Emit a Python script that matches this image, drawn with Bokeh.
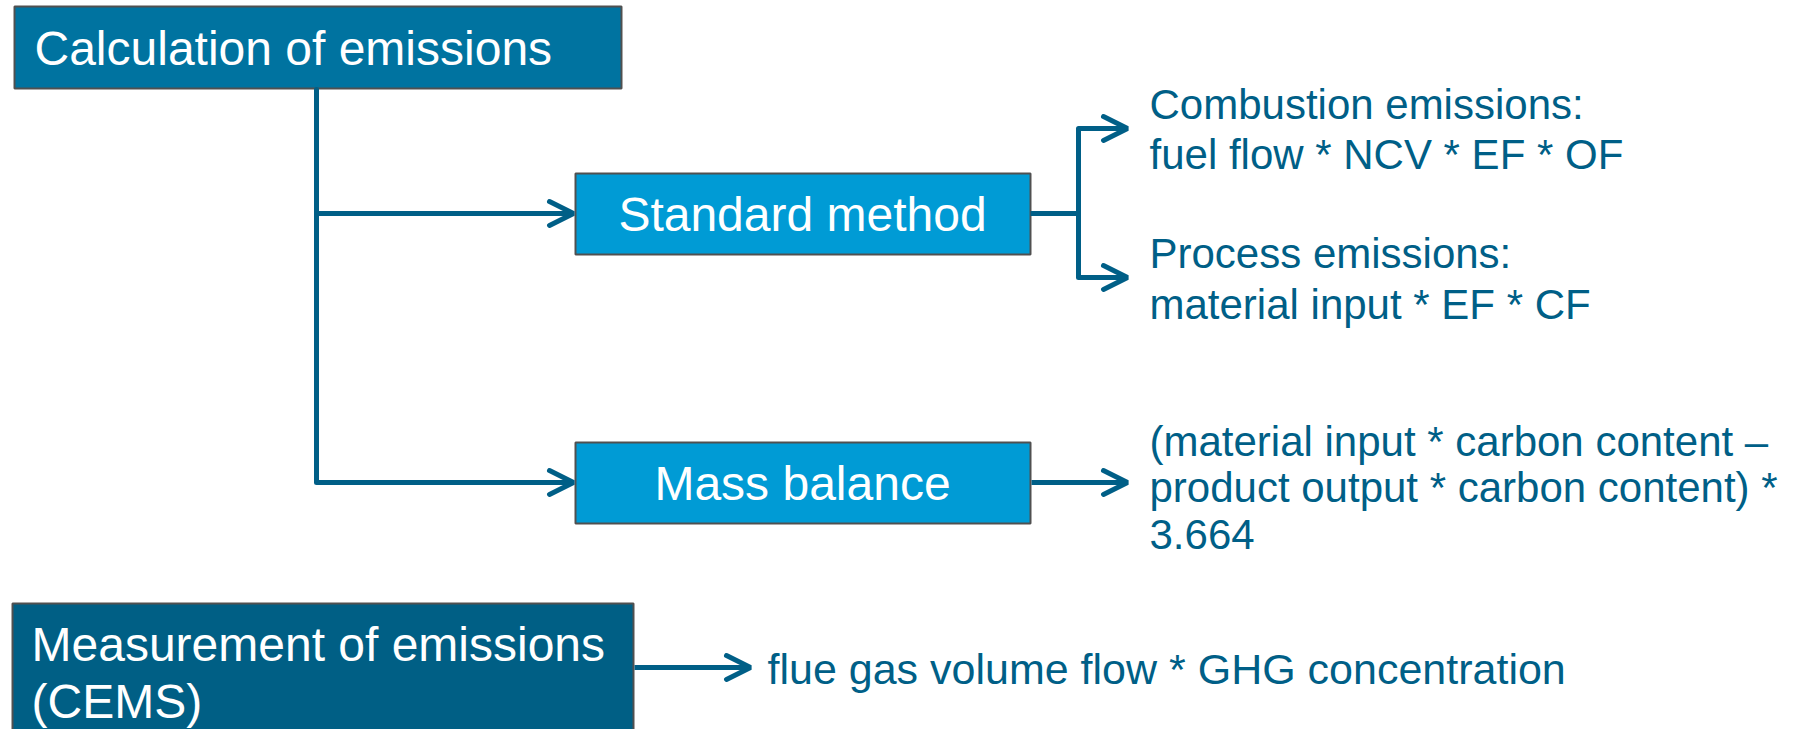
from bokeh.plotting import figure
from bokeh.models import Range1d, Arrow, OpenHead, ColumnDataSource
from bokeh.core.properties import value
from bokeh.embed import file_html
from bokeh.resources import INLINE

# ---- content ----
main_boxes = ["Calculation of emissions", "Measurement of emissions"]
method_boxes = ["Standard method", "Mass balance"]
cems_second_line = ["(CEMS)"]
standard_formulas = ["Combustion emissions:", "fuel flow * NCV * EF * OF",
                     "Process emissions:", "material input * EF * CF"]
mass_balance_formula = ["(material input * carbon content \u2013",
                        "product output * carbon content) *", "3.664"]
cems_formula = ["flue gas volume flow * GHG concentration"]

# ---- layout (pixel coordinates of the drawing) ----
DARK1 = "#0073A0"
DARK2 = "#005F85"
LIGHT = "#009BD5"
LINE = "#005F87"
BORDER = "#505050"
FONT = value("Liberation Sans")
BIG = 15    # baseline correction for 48px text
SMALL = 14  # baseline correction for 42px text

p = figure(width=1800, height=729, x_range=Range1d(0, 1800), y_range=Range1d(729, 0),
           output_backend="svg", toolbar_location=None, min_border=0,
           x_axis_type=None, y_axis_type=None)
p.grid.visible = False
p.outline_line_color = None
p.background_fill_color = "white"

# boxes
boxes = ColumnDataSource(dict(
    left=[14, 575, 575, 12],
    right=[621, 1030, 1030, 633],
    top=[6, 173, 442, 603],
    bottom=[88, 254, 523, 760],
    color=[DARK1, LIGHT, LIGHT, DARK2],
))
p.quad(left="left", right="right", top="top", bottom="bottom", source=boxes,
       fill_color="color", line_color=BORDER, line_width=2)

# connector lines
p.line(x=[316, 316], y=[89, 482], line_color=LINE, line_width=5, line_cap="round")
p.line(x=[1030, 1078], y=[213, 213], line_color=LINE, line_width=5)
p.line(x=[1078, 1078], y=[128, 277], line_color=LINE, line_width=5, line_cap="round")

arrows = [
    (316, 213, 573, 213),
    (316, 482, 573, 482),
    (1078, 128, 1127, 128),
    (1078, 277, 1127, 277),
    (1031, 482, 1127, 482),
    (634, 667, 750, 667),
]
for x0, y0, x1, y1 in arrows:
    p.add_layout(Arrow(x_start=x0, y_start=y0, x_end=x1, y_end=y1,
                       line_color=LINE, line_width=5,
                       end=OpenHead(size=24, line_color=LINE, line_width=5, line_cap="round")))

# box texts (white)
p.text(x=[34, 31], y=[63 - BIG, 659 - BIG], text=main_boxes, text_font=FONT, text_font_size="48px",
       text_color="white", text_baseline="alphabetic", text_align="left")
p.text(x=[31], y=[716 - BIG], text=cems_second_line, text_font=FONT, text_font_size="48px",
       text_color="white", text_baseline="alphabetic", text_align="left")
p.text(x=[802, 802], y=[229 - BIG, 498 - BIG], text=method_boxes, text_font=FONT, text_font_size="48px",
       text_color="white", text_baseline="alphabetic", text_align="center")

# formula texts
p.text(x=[1149] * 4, y=[y - SMALL for y in (118, 168, 267, 318)], text=standard_formulas, text_font=FONT,
       text_font_size="42px", text_color=LINE, text_baseline="alphabetic", text_align="left")
p.text(x=[1149] * 3, y=[y - SMALL for y in (455, 501, 548)], text=mass_balance_formula, text_font=FONT,
       text_font_size="42px", text_color=LINE, text_baseline="alphabetic", text_align="left")
p.text(x=[767], y=[682 - SMALL], text=cems_formula, text_font=FONT,
       text_font_size="43px", text_color=LINE, text_baseline="alphabetic", text_align="left")

open("out.html", "w").write(file_html(p, INLINE))
